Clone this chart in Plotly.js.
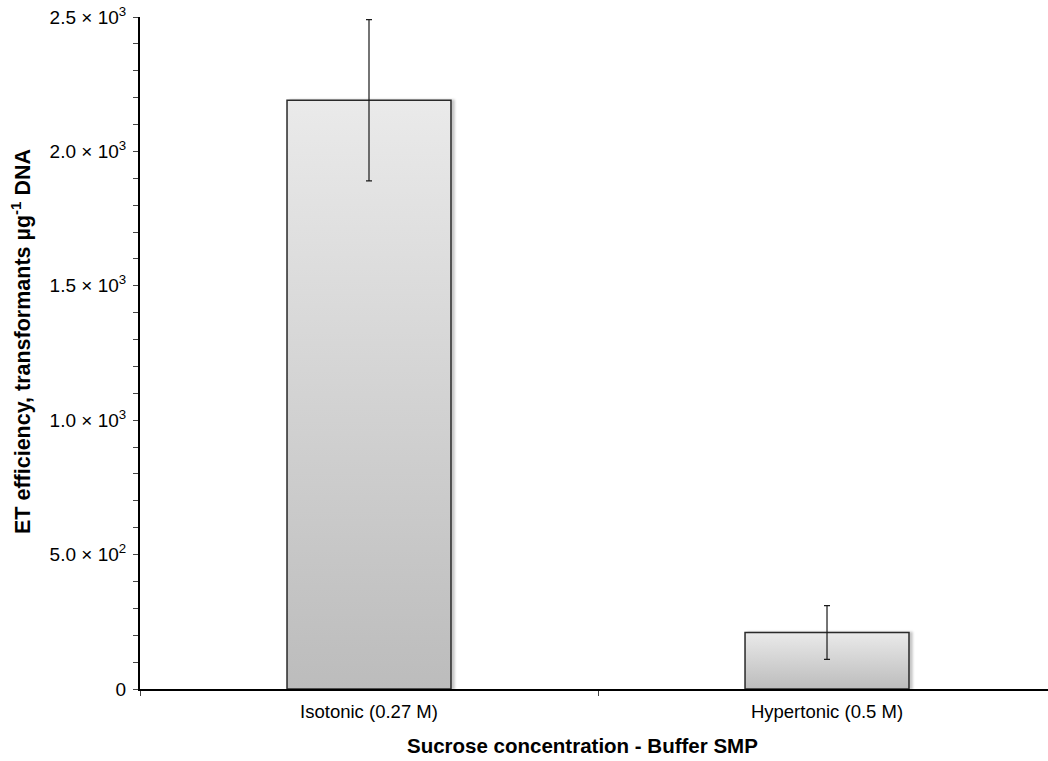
<!DOCTYPE html>
<html>
<head>
<meta charset="utf-8">
<script src="https://cdn.plot.ly/plotly-3.0.1.min.js"></script>
<style>
html,body{margin:0;padding:0;background:#fff;}
#chart{width:1048px;height:761px;}
</style>
</head>
<body>
<div id="chart"></div>
<script>
// Data
const categories = ["Isotonic (0.27 M)", "Hypertonic (0.5 M)"];
const efficiency = [2190, 210];
const errorValues = [300, 100];
const yTickVals = [0, 500, 1000, 1500, 2000, 2500];
const yTickText = ["0", "5.0 × 10<sup>2</sup>", "1.0 × 10<sup>3</sup>", "1.5 × 10<sup>3</sup>", "2.0 × 10<sup>3</sup>", "2.5 × 10<sup>3</sup>"];
const xTitle = "Sucrose concentration - Buffer SMP";
const yTitle = "ET efficiency, transformants µg<sup>-1</sup> DNA";

const FONT = "Liberation Sans, Arial, sans-serif";

const trace = {
  type: "bar",
  x: categories,
  y: efficiency,
  width: 0.358,
  marker: {color: "#d4d4d4", line: {color: "#2a2a2a", width: 1.5}},
  error_y: {type: "data", array: errorValues, visible: true, color: "#1a1a1a", thickness: 1.2, width: 3},
  hoverinfo: "skip"
};

const layout = {
  width: 1048, height: 761,
  margin: {l: 140, r: 0, t: 17, b: 72, pad: 0},
  paper_bgcolor: "#ffffff", plot_bgcolor: "#ffffff",
  showlegend: false,
  font: {family: FONT, color: "#000", size: 18},
  xaxis: {
    type: "category",
    range: [-0.5, 1.4825],
    showline: true, linecolor: "#000", linewidth: 2,
    ticks: "outside", tickson: "boundaries", ticklen: 5, tickcolor: "#444", tickwidth: 1,
    showgrid: false, zeroline: false,
    ticklabelstandoff: 5,
    tickfont: {family: FONT, size: 18.5, color: "#000"}
  },
  yaxis: {
    range: [0, 2500],
    tickmode: "array", tickvals: yTickVals, ticktext: yTickText,
    showline: true, linecolor: "#000", linewidth: 2,
    ticks: "outside", ticklen: 5, tickcolor: "#444", tickwidth: 1,
    minor: {tickmode: "linear", tick0: 0, dtick: 100, ticks: "outside", ticklen: 5, tickcolor: "#444", tickwidth: 1, showgrid: false},
    showgrid: false, zeroline: false,
    ticklabelstandoff: 3,
    tickfont: {family: FONT, size: 19, color: "#000"}
  },
  annotations: [
    {text: "<b>" + xTitle + "</b>", xref: "paper", yref: "paper",
     x: (582 - 140) / 908, y: -(745 - 689) / 672, xanchor: "center", yanchor: "middle",
     showarrow: false, font: {family: FONT, size: 20.5, color: "#000"}},
    {text: "<b>" + yTitle + "</b>", xref: "paper", yref: "paper", textangle: -90,
     x: (21 - 140) / 908, y: 1 - (342 - 17) / 672, xanchor: "center", yanchor: "middle",
     showarrow: false, font: {family: FONT, size: 21.5, color: "#000"}}
  ]
};

Plotly.newPlot("chart", [trace], layout, {staticPlot: true, displayModeBar: false}).then(function (gd) {
  const svgNS = "http://www.w3.org/2000/svg";
  const svg = gd.querySelector("svg.main-svg");
  let defs = svg.querySelector("defs");
  if (!defs) { defs = document.createElementNS(svgNS, "defs"); svg.insertBefore(defs, svg.firstChild); }
  const grad = document.createElementNS(svgNS, "linearGradient");
  grad.setAttribute("id", "barGrad");
  grad.setAttribute("x1", "0"); grad.setAttribute("y1", "0");
  grad.setAttribute("x2", "0"); grad.setAttribute("y2", "1");
  [["0", "#eaeaea"], ["1", "#bcbcbc"]].forEach(function (s) {
    const st = document.createElementNS(svgNS, "stop");
    st.setAttribute("offset", s[0]); st.setAttribute("stop-color", s[1]);
    grad.appendChild(st);
  });
  defs.appendChild(grad);
  const filt = document.createElementNS(svgNS, "filter");
  filt.setAttribute("id", "barShadow");
  filt.setAttribute("x", "-5%"); filt.setAttribute("y", "-5%");
  filt.setAttribute("width", "115%"); filt.setAttribute("height", "110%");
  const ds = document.createElementNS(svgNS, "feDropShadow");
  ds.setAttribute("dx", "3"); ds.setAttribute("dy", "0");
  ds.setAttribute("stdDeviation", "1.2");
  ds.setAttribute("flood-color", "#000"); ds.setAttribute("flood-opacity", "0.22");
  filt.appendChild(ds);
  defs.appendChild(filt);
  gd.querySelectorAll(".barlayer .point path").forEach(function (p) {
    p.style.fill = "url(#barGrad)";
    p.setAttribute("filter", "url(#barShadow)");
  });
});
</script>
</body>
</html>
